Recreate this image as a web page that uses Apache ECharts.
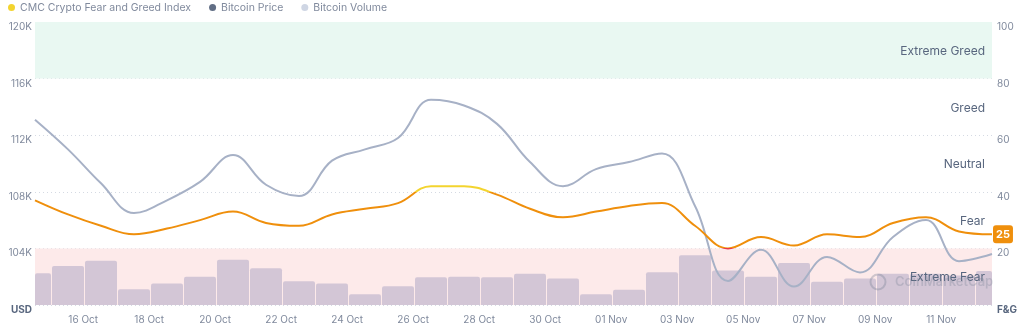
<!DOCTYPE html>
<html>
<head>
<meta charset="utf-8">
<style>
  html, body { margin: 0; padding: 0; background: #fff; }
  #chart { width: 1024px; height: 332px; }
</style>
<script src="https://cdn.jsdelivr.net/npm/echarts@6/dist/echarts.min.js"></script>
</head>
<body>
<div id="chart"></div>
<script>
// one label per calendar day, 14 Oct .. 12 Nov (x value = days since 14 Oct 00:00)
const dayLabels = [
  '14 Oct', '15 Oct', '16 Oct', '17 Oct', '18 Oct', '19 Oct', '20 Oct', '21 Oct', '22 Oct', '23 Oct',
  '24 Oct', '25 Oct', '26 Oct', '27 Oct', '28 Oct', '29 Oct', '30 Oct', '31 Oct', '01 Nov', '02 Nov',
  '03 Nov', '04 Nov', '05 Nov', '06 Nov', '07 Nov', '08 Nov', '09 Nov', '10 Nov', '11 Nov', '12 Nov'
];
// daily samples are taken at ~13:00
const sampleOffset = 0.54;

const fearGreed = [37, 32, 28, 25, 27, 30, 33, 29, 28, 32, 34, 36, 42, 42, 39,
                   34, 31, 33, 35, 36, 28, 20, 24, 21, 25, 24, 29, 31, 26, 25];

const btcPrice = [113100, 111000, 108600, 106500, 107400, 108700, 110600, 108500, 107700, 110200,
                  111000, 111800, 114500, 114100, 112800, 110100, 108400, 109600, 110100, 110700,
                  107000, 101700, 103900, 101300, 103400, 102300, 104800, 106000, 103100, 103600];

// billions USD
const btcVolume = [56, 69, 78, 28, 38, 50, 80, 65, 42, 38, 19, 33, 49, 50, 49,
                   55, 47, 19, 27, 58, 88, 61, 50, 74, 41, 47, 55, 55, 52, 60];

const zoneNames = ['Extreme Fear', 'Fear', 'Neutral', 'Greed', 'Extreme Greed'];
const zoneBounds = [[0, 20], [20, 40], [40, 60], [60, 80], [80, 100]];
const zoneFills = ['#fdeaea', 'rgba(0,0,0,0)', 'rgba(0,0,0,0)', 'rgba(0,0,0,0)', '#e9f8f2'];
const zoneColors = ['#ea3943', '#ef8f0c', '#f3d42f', '#93d900', '#16c784'];

const pts = arr => arr.map((v, i) => [sampleOffset + i, v]);

const chart = echarts.init(document.getElementById('chart'));
const fontFamily = 'Inter, "Noto Sans", sans-serif';

// bars clipped to the plot area (first and last day are half visible)
function renderVolumeBar(params, api) {
  const x = api.value(0);
  const top = api.coord([x, api.value(1)]);
  const base = api.coord([x, 0]);
  const w = api.size([1, 0])[0] - 1;
  const cs = params.coordSys;
  const rect = echarts.graphic.clipRectByRect(
    { x: top[0] - w / 2, y: top[1], width: w, height: base[1] - top[1] },
    { x: cs.x, y: cs.y, width: cs.width, height: cs.height }
  );
  if (!rect) return;
  return {
    type: 'rect',
    shape: Object.assign(rect, { r: [2, 2, 0, 0] }),
    style: api.style()
  };
}

chart.setOption({
  animation: false,
  textStyle: { fontFamily },
  legend: {
    left: 3,
    top: -3,
    icon: 'circle',
    itemWidth: 7,
    itemHeight: 7,
    itemGap: 18,
    textStyle: { color: '#808a9d', fontSize: 10.5 },
    data: [
      { name: 'CMC Crypto Fear and Greed Index', itemStyle: { color: '#f3d42f' } },
      { name: 'Bitcoin Price', itemStyle: { color: '#616e85' } },
      { name: 'Bitcoin Volume', itemStyle: { color: '#cfd6e4' } }
    ]
  },
  grid: { left: 35, right: 32, top: 22, bottom: 27 },
  visualMap: {
    show: false,
    type: 'piecewise',
    seriesIndex: 3,
    dimension: 1,
    pieces: zoneBounds.map((b, i) => ({ gte: b[0], lt: b[1], color: zoneColors[i] }))
  },
  xAxis: {
    type: 'value',
    min: sampleOffset,
    max: sampleOffset + btcPrice.length - 1,
    minInterval: 2,
    maxInterval: 2,
    splitNumber: 14,
    axisLine: { show: false },
    axisTick: { show: false },
    splitLine: { show: false },
    axisLabel: {
      showMinLabel: false,
      showMaxLabel: false,
      color: '#808a9d',
      fontSize: 10,
      margin: 10,
      formatter: v => dayLabels[Math.round(v)] || ''
    }
  },
  yAxis: [
    {
      type: 'value',
      position: 'left',
      min: 100000,
      max: 120000,
      interval: 4000,
      axisLine: { show: false },
      axisTick: { show: false },
      splitLine: { show: false },
      axisLabel: {
        color: '#808a9d',
        fontSize: 10,
        margin: 3,
        verticalAlign: 'top',
        formatter: v => v === 100000 ? '{u|USD}' : (v / 1000) + 'K',
        rich: { u: { fontWeight: 'bold', color: '#58667e', fontSize: 10 } }
      }
    },
    {
      type: 'value',
      position: 'right',
      min: 0,
      max: 100,
      interval: 20,
      axisLine: { show: false },
      axisTick: { show: false },
      splitLine: { show: true, lineStyle: { color: '#d5dae3', type: [1, 3], width: 1 } },
      axisLabel: {
        color: '#808a9d',
        fontSize: 10,
        margin: 5,
        verticalAlign: 'top',
        formatter: v => v === 0 ? '{u|F&G}' : String(v),
        rich: { u: { fontWeight: 'bold', color: '#58667e', fontSize: 10 } }
      }
    },
    { type: 'value', min: 0, max: 500, show: false }
  ],
  // watermark
  graphic: [
    {
      type: 'circle', z: 10, silent: true,
      shape: { cx: 878, cy: 282, r: 7.5 },
      style: { fill: 'none', stroke: 'rgba(120,130,150,0.35)', lineWidth: 2 }
    },
    {
      type: 'text', z: 10, silent: true, x: 895, y: 282,
      style: {
        text: 'CoinMarketCap', fill: 'rgba(120,130,150,0.3)', fontSize: 13,
        fontWeight: 600, fontFamily, verticalAlign: 'middle'
      }
    }
  ],
  series: [
    {
      name: 'zones',
      type: 'line',
      yAxisIndex: 1,
      data: [],
      silent: true,
      z: 0,
      markArea: {
        silent: true,
        z: 0,
        label: { show: false },
        data: zoneBounds.map((b, i) => [
          { yAxis: b[0], itemStyle: { color: zoneFills[i] } },
          { yAxis: b[1] }
        ])
      }
    },
    {
      name: 'Bitcoin Volume',
      type: 'custom',
      yAxisIndex: 2,
      data: pts(btcVolume),
      encode: { x: 0, y: 1 },
      renderItem: renderVolumeBar,
      itemStyle: { color: '#d3c6d6' },
      z: 2
    },
    {
      name: 'Bitcoin Price',
      type: 'line',
      yAxisIndex: 0,
      data: pts(btcPrice),
      smooth: 0.4,
      symbol: 'none',
      lineStyle: { color: '#a7b1c6', width: 2 },
      itemStyle: { color: '#a7b1c6' },
      z: 3
    },
    {
      name: 'CMC Crypto Fear and Greed Index',
      type: 'line',
      yAxisIndex: 1,
      data: pts(fearGreed),
      smooth: 0.4,
      symbol: 'none',
      lineStyle: { width: 2 },
      z: 4,
      endLabel: {
        show: true,
        formatter: p => String(p.value[1]),
        color: '#fff',
        backgroundColor: '#ef8f0c',
        borderRadius: 3,
        padding: [4, 3, 3, 3],
        fontSize: 11,
        fontWeight: 'bold',
        distance: 1
      },
      markArea: {
        silent: true,
        z: 5,
        itemStyle: { color: 'rgba(0,0,0,0)' },
        label: {
          show: true,
          position: 'insideRight',
          distance: 7,
          offset: [0, 1],
          color: '#58667e',
          fontSize: 12,
          fontFamily
        },
        data: zoneBounds.map((b, i) => [
          { yAxis: b[0], name: zoneNames[i] },
          { yAxis: b[1] }
        ])
      }
    }
  ]
});
</script>
</body>
</html>
